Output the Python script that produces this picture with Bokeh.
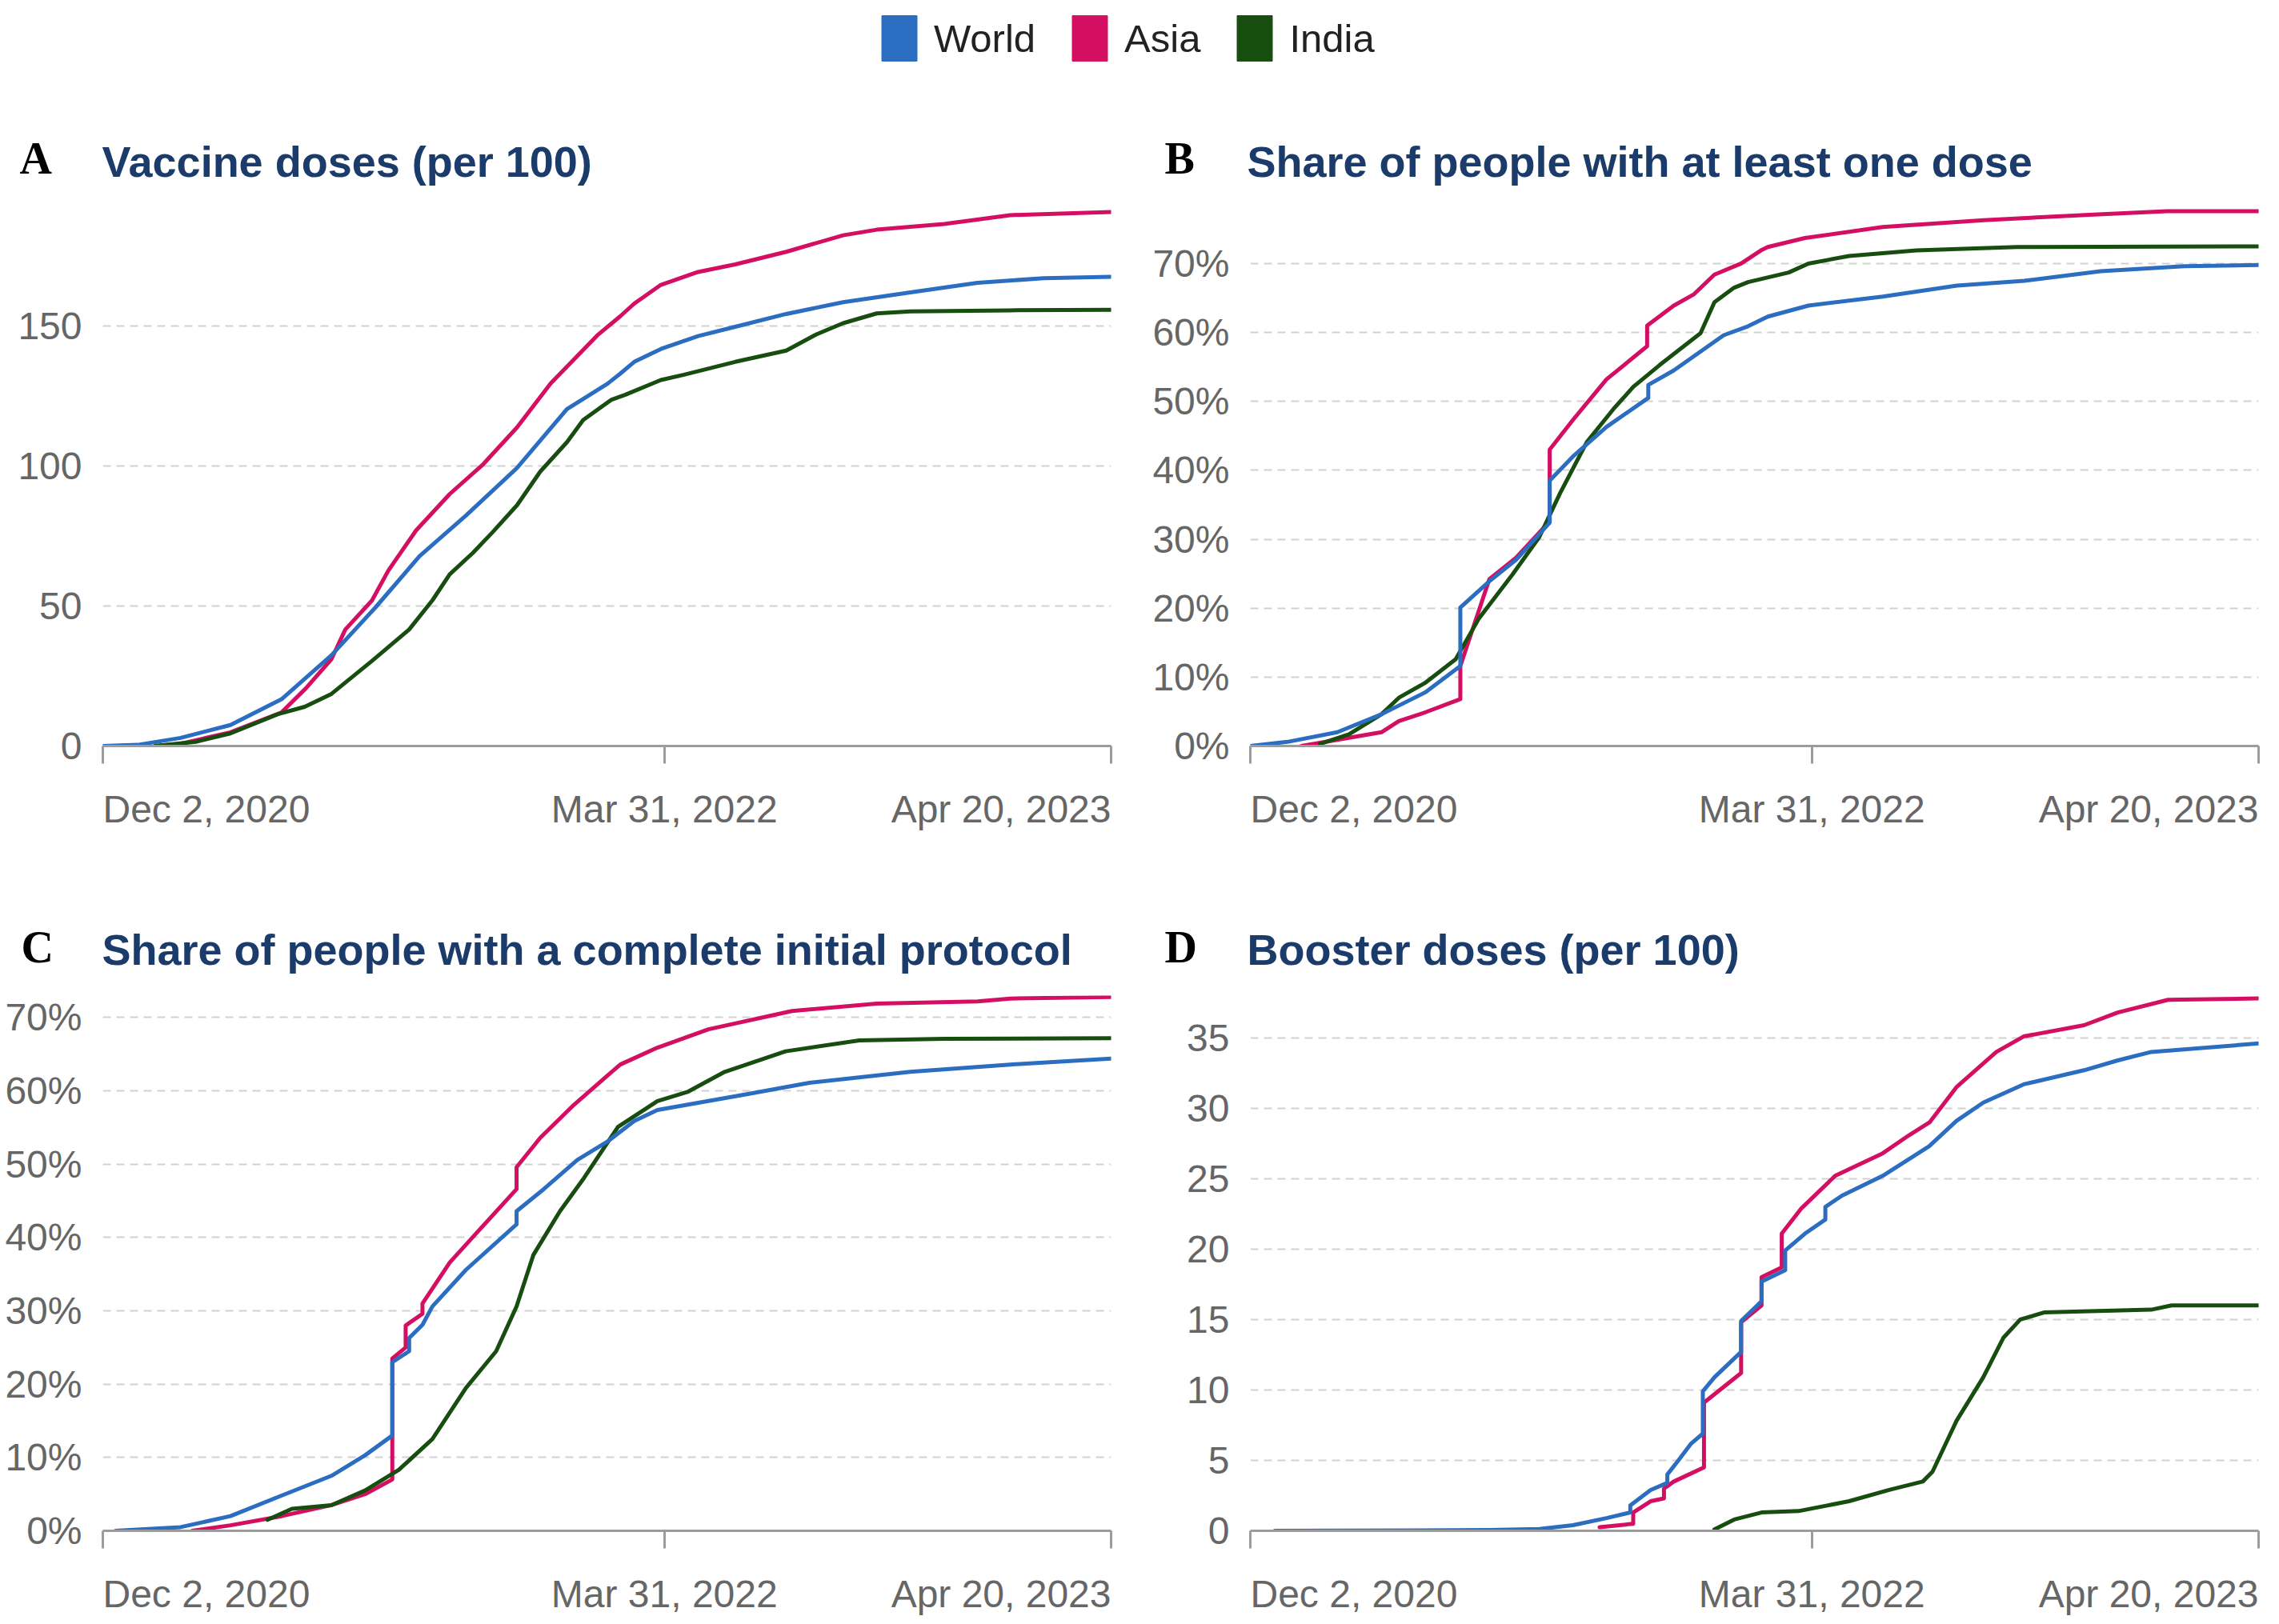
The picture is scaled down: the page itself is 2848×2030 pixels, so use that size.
import numpy as np
import pandas as pd
from bokeh.plotting import figure
from bokeh.layouts import column, row
from bokeh.models import (Range1d, FixedTicker, PrintfTickFormatter, Legend, LegendItem)
from bokeh.core.properties import value
from bokeh.embed import file_html
from bokeh.resources import INLINE

# ---------------- data ----------------
START = "2020-12-02"
MID = "2022-03-31"
END = "2023-04-20"
X_TICK_DATES = [START, MID, END]
X_TICK_LABELS = ["Dec 2, 2020", "Mar 31, 2022", "Apr 20, 2023"]

SERIES = ["World", "Asia", "India"]
COLORS = {"World": "#2b6dc0", "Asia": "#d40f62", "India": "#184d10"}

# x values are days after Dec 2, 2020
# Panel A: vaccine doses per 100
A_WORLD_DAY = [0, 30, 67, 110, 154, 197, 235, 273, 313, 357, 400, 435, 446, 458, 481, 513, 545, 589, 638, 696, 754, 811, 869]
A_WORLD_VAL = [0, 0.4, 2.9, 7.5, 16.7, 32.4, 49.5, 67.8, 82.3, 99.3, 120.3, 129.4, 133.0, 137.2, 141.8, 146.4, 149.7, 154.3, 158.5, 162.0, 165.4, 167.1, 167.6]
A_ASIA_DAY = [45, 67, 110, 154, 175, 197, 209, 232, 246, 270, 299, 328, 357, 386, 426, 446, 458, 481, 513, 545, 589, 638, 667, 725, 782, 869]
A_ASIA_VAL = [0, 0.8, 4.9, 12.0, 20.6, 31.0, 41.6, 52.0, 62.6, 77.0, 90.0, 100.7, 113.8, 129.5, 146.6, 153.5, 158.0, 164.7, 169.3, 172.0, 176.5, 182.4, 184.4, 186.4, 189.6, 190.7]
A_INDIA_DAY = [45, 80, 110, 151, 174, 197, 232, 264, 284, 299, 319, 336, 357, 377, 400, 414, 438, 450, 481, 501, 545, 589, 615, 638, 667, 696, 782, 869]
A_INDIA_VAL = [0, 1.5, 4.5, 11.4, 14.0, 18.6, 30.4, 41.6, 52.0, 61.3, 69.0, 76.4, 86.0, 98.0, 108.5, 116.4, 123.6, 125.4, 130.7, 132.6, 137.2, 141.2, 147.0, 151.0, 154.5, 155.2, 155.6, 155.8]

# Panel B: share with at least one dose (%)
B_WORLD_DAY = [0, 32, 75, 113, 151, 181, 181, 206, 229, 258, 258, 278, 307, 343, 343, 365, 408, 429, 446, 481, 545, 609, 667, 733, 805, 869]
B_WORLD_VAL = [0, 0.6, 2.0, 4.6, 7.8, 11.6, 20.1, 23.9, 27.0, 32.4, 38.5, 42.0, 46.3, 50.5, 52.4, 54.5, 59.6, 60.9, 62.3, 63.9, 65.2, 66.8, 67.5, 68.9, 69.6, 69.8]
B_ASIA_DAY = [44, 75, 113, 128, 151, 181, 181, 206, 229, 258, 258, 278, 307, 342, 342, 365, 382, 400, 423, 440, 446, 478, 545, 632, 727, 790, 869]
B_ASIA_VAL = [0, 0.9, 2.0, 3.6, 4.9, 6.8, 11.6, 24.2, 27.3, 32.6, 43.0, 47.3, 53.2, 58.0, 61.0, 63.9, 65.5, 68.4, 70.0, 71.9, 72.4, 73.7, 75.3, 76.3, 77.1, 77.6, 77.6]
B_INDIA_DAY = [60, 85, 113, 128, 151, 177, 197, 226, 249, 267, 290, 313, 330, 353, 388, 400, 417, 429, 464, 481, 516, 574, 661, 869]
B_INDIA_VAL = [0.3, 1.7, 4.6, 7.0, 9.2, 12.6, 18.5, 24.9, 30.3, 36.7, 44.1, 48.9, 52.1, 55.3, 59.9, 64.4, 66.5, 67.3, 68.7, 70.0, 71.1, 71.9, 72.4, 72.5]

# Panel C: share with a complete initial protocol (%)
C_WORLD_DAY = [11, 67, 110, 154, 197, 226, 249.5, 249.5, 264, 264, 275.5, 284, 313, 356.6, 356.6, 380, 409, 435, 458, 478, 557, 609, 696, 782, 869]
C_WORLD_VAL = [0, 0.5, 2.0, 4.8, 7.5, 10.3, 13.0, 23.0, 24.5, 26.3, 28.1, 30.6, 35.6, 41.8, 43.6, 46.6, 50.6, 53.1, 55.9, 57.4, 59.6, 61.1, 62.6, 63.6, 64.4]
C_ASIA_DAY = [77, 110, 154, 197, 226, 249.5, 249.5, 261, 261, 275.5, 275.5, 299, 322, 356.6, 356.6, 377, 406, 435, 446, 478, 522, 594, 667, 754, 782, 869]
C_ASIA_VAL = [0, 0.75, 2.0, 3.5, 5.0, 7.0, 23.5, 25.0, 28.0, 29.6, 31.0, 36.6, 40.6, 46.6, 49.6, 53.6, 58.1, 62.1, 63.6, 65.9, 68.4, 70.9, 71.9, 72.2, 72.6, 72.8]
C_INDIA_DAY = [142, 163, 197, 226, 255, 284, 313, 339, 356.6, 371, 394, 414.6, 444, 478, 504.5, 536, 588.5, 652, 725, 869]
C_INDIA_VAL = [1.5, 3.0, 3.5, 5.5, 8.3, 12.5, 19.5, 24.5, 30.6, 37.6, 43.6, 48.1, 55.1, 58.6, 59.9, 62.6, 65.4, 66.9, 67.1, 67.2]

# Panel D: booster doses per 100
D_WORLD_DAY = [21, 206, 249, 278, 307, 327.5, 327.5, 345, 359.4, 359.4, 368, 380, 390, 390, 400, 423, 423, 440.6, 440.6, 461, 461, 478, 495.6, 495.6, 510, 545, 585, 608.6, 631.7, 666.5, 718.6, 747.6, 776.5, 869]
D_WORLD_VAL = [0, 0.05, 0.13, 0.4, 0.9, 1.3, 1.8, 2.9, 3.4, 4.0, 4.9, 6.2, 6.9, 9.9, 10.9, 12.7, 14.9, 16.3, 17.7, 18.5, 19.9, 21.1, 22.1, 23.0, 23.8, 25.2, 27.3, 29.1, 30.4, 31.7, 32.7, 33.4, 34.0, 34.6]
D_ASIA_DAY = [301, 330, 330, 345, 356.5, 356.5, 365, 391, 391, 423, 423, 440.6, 440.6, 458, 458, 475, 504, 545, 568, 585.4, 608.6, 643, 666.5, 718.6, 747.6, 791, 869]
D_ASIA_VAL = [0.26, 0.5, 1.3, 2.1, 2.3, 3.0, 3.5, 4.5, 9.1, 11.2, 14.8, 16.0, 18.0, 18.7, 21.1, 22.9, 25.2, 26.8, 28.1, 29.0, 31.5, 34.0, 35.1, 35.9, 36.8, 37.7, 37.8]
D_INDIA_DAY = [400, 417, 440.6, 472.4, 516, 550.6, 579.6, 588, 608.6, 631.7, 649, 663.6, 684, 776.5, 794, 869]
D_INDIA_VAL = [0.1, 0.8, 1.3, 1.4, 2.1, 2.9, 3.5, 4.2, 7.8, 10.9, 13.7, 15.0, 15.5, 15.7, 16.0, 16.0]

LETTERS = ["A", "B", "C", "D"]
TITLES = ["Vaccine doses (per 100)", "Share of people with at least one dose",
          "Share of people with a complete initial protocol", "Booster doses (per 100)"]
Y_MAX = [192, 78, 73, 38]
Y_TICKS = [[0, 50, 100, 150], [0, 10, 20, 30, 40, 50, 60, 70],
           [0, 10, 20, 30, 40, 50, 60, 70], [0, 5, 10, 15, 20, 25, 30, 35]]
Y_PERCENT = [False, True, True, False]
PANEL_DATA = [
    {"World": (A_WORLD_DAY, A_WORLD_VAL), "Asia": (A_ASIA_DAY, A_ASIA_VAL), "India": (A_INDIA_DAY, A_INDIA_VAL)},
    {"World": (B_WORLD_DAY, B_WORLD_VAL), "Asia": (B_ASIA_DAY, B_ASIA_VAL), "India": (B_INDIA_DAY, B_INDIA_VAL)},
    {"World": (C_WORLD_DAY, C_WORLD_VAL), "Asia": (C_ASIA_DAY, C_ASIA_VAL), "India": (C_INDIA_DAY, C_INDIA_VAL)},
    {"World": (D_WORLD_DAY, D_WORLD_VAL), "Asia": (D_ASIA_DAY, D_ASIA_VAL), "India": (D_INDIA_DAY, D_INDIA_VAL)},
]

# ---------------- style / layout ----------------
SANS = "Liberation Sans"
SERIF = "Liberation Serif"
TITLE_COLOR = "#1b3c6b"
TICK_COLOR = "#666666"
AXIS_COLOR = "#9c9c9c"
GRID_COLOR = "#d2d2d2"
PAGE_W = 2840
FRAME_W = 1260
COL_BORDERS = [(128, 47), (127, 18)]   # (left, right) borders of left / right column
FRAME_H = [672, 669]                   # frame height of top / bottom row
PANEL_BOTTOM = 26
STRIP_H = [90, 80]
LABEL_FROM_TOP = 53


def ms(d):
    return pd.Timestamp(d).value / 1e6


def to_dates(days):
    return pd.Timestamp(START) + pd.to_timedelta(np.asarray(days, dtype=float), unit="D")


def make_panel(i, xr):
    bl, br = COL_BORDERS[i % 2]
    p = figure(x_axis_type="datetime", frame_width=FRAME_W, frame_height=FRAME_H[i // 2],
               x_range=xr, y_range=Range1d(0, Y_MAX[i]),
               toolbar_location=None, output_backend="svg",
               min_border_left=bl, min_border_right=br, min_border_top=4,
               min_border_bottom=PANEL_BOTTOM)
    p.outline_line_color = None
    p.xgrid.grid_line_color = None
    p.ygrid.grid_line_color = GRID_COLOR
    p.ygrid.grid_line_width = 2
    p.ygrid.grid_line_dash = "10 7"

    p.yaxis.ticker = FixedTicker(ticks=Y_TICKS[i])
    p.yaxis.formatter = PrintfTickFormatter(format="%d%%" if Y_PERCENT[i] else "%d")
    p.yaxis.axis_line_color = None
    p.yaxis.major_tick_line_color = None
    p.yaxis.minor_tick_line_color = None
    p.yaxis.major_label_standoff = 20
    p.yaxis.major_label_text_font = SANS
    p.yaxis.major_label_text_font_size = "48px"
    p.yaxis.major_label_text_color = TICK_COLOR

    xt = [ms(d) for d in X_TICK_DATES]
    p.xaxis.ticker = FixedTicker(ticks=xt)
    p.xaxis.major_label_overrides = {t: "" for t in xt}
    p.xaxis.major_label_text_font_size = "1px"
    p.xaxis.major_label_standoff = 0
    p.xaxis.axis_line_color = AXIS_COLOR
    p.xaxis.axis_line_width = 3
    p.xaxis.major_tick_line_color = AXIS_COLOR
    p.xaxis.major_tick_line_width = 3
    p.xaxis.major_tick_in = 0
    p.xaxis.major_tick_out = 22
    p.xaxis.minor_tick_line_color = None

    for s in ["Asia", "India", "World"]:
        days, vals = PANEL_DATA[i][s]
        p.line(to_dates(days), vals, line_color=COLORS[s], line_width=5,
               line_join="round", line_cap="round")
    return p


def make_xlabel_strip(i, xr):
    # date tick labels under the axis, placed through the panel's own date scale
    bl, br = COL_BORDERS[i % 2]
    h = STRIP_H[i // 2]
    s = figure(x_axis_type="datetime", frame_width=FRAME_W, frame_height=h,
               x_range=xr, y_range=Range1d(0, h), toolbar_location=None,
               output_backend="svg", min_border_left=bl, min_border_right=br,
               min_border_top=0, min_border_bottom=0,
               x_axis_location=None, y_axis_location=None)
    s.grid.visible = False
    s.outline_line_color = None
    for d, lab, al in zip(X_TICK_DATES, X_TICK_LABELS, ["left", "center", "right"]):
        s.text(x=[pd.Timestamp(d)], y=[h - LABEL_FROM_TOP], text=[lab], text_align=al,
               text_baseline="alphabetic", text_font=value(SANS), text_font_size="48px",
               text_color=TICK_COLOR)
    return s


def make_header(height, idx, title_y, letter_y, letter_x, with_legend=False, legend_bottom=0):
    h = figure(width=PAGE_W, height=height, x_range=Range1d(0, PAGE_W), y_range=Range1d(0, height),
               toolbar_location=None, output_backend="svg", min_border=0,
               x_axis_location=None, y_axis_location=None)
    h.grid.visible = False
    h.outline_line_color = None
    title_x = [127, 1558]
    for k, i in enumerate(idx):
        h.text(x=[title_x[k]], y=[title_y], text=[TITLES[i]], text_align="left",
               text_baseline="alphabetic", text_font=value(SANS), text_font_style="bold",
               text_font_size="54px", text_color=TITLE_COLOR)
        h.text(x=[letter_x[k]], y=[letter_y], text=[LETTERS[i]], text_align="left",
               text_baseline="alphabetic", text_font=value(SERIF), text_font_style="bold",
               text_font_size="56px", text_color="black")
    if with_legend:
        items = []
        for s in SERIES:
            r = h.rect(x=[-100], y=[-100], width=1, height=1, fill_color=COLORS[s], line_color=COLORS[s])
            items.append(LegendItem(label=s, renderers=[r]))
        leg = Legend(items=items, orientation="horizontal", location=(1096, legend_bottom),
                     glyph_width=55, glyph_height=71, label_standoff=16, spacing=40,
                     padding=0, margin=0, border_line_color=None, background_fill_alpha=0,
                     label_text_font=SANS, label_text_font_size="49px", label_text_color="#222222")
        h.add_layout(leg)
    return h


xranges = [Range1d(ms(START), ms(END)) for _ in range(4)]
panels = [make_panel(i, xranges[i]) for i in range(4)]
strips = [make_xlabel_strip(i, xranges[i]) for i in range(4)]

head1 = make_header(256, [0, 1], title_y=55, letter_y=59, letter_x=[24, 1455],
                    with_legend=True, legend_bottom=173)
head2 = make_header(192, [2, 3], title_y=54, letter_y=57, letter_x=[26, 1455])

layout = column(head1, row(panels[0], panels[1]), row(strips[0], strips[1]),
                head2, row(panels[2], panels[3]), row(strips[2], strips[3]))
open("out.html", "w").write(file_html(layout, INLINE))
